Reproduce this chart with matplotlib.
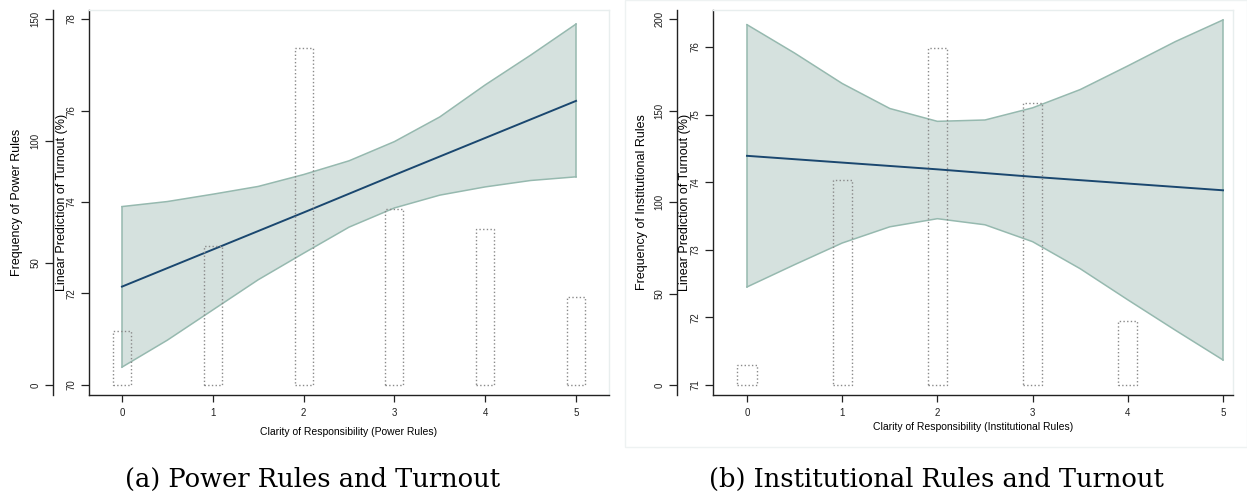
import numpy as np
import matplotlib
matplotlib.use('Agg')
import matplotlib.pyplot as plt
from matplotlib.patches import Rectangle

# ---------------------------------------------------------------------------
# data
clarity = [0, 1, 2, 3, 4, 5]
grid = [0, 0.5, 1, 1.5, 2, 2.5, 3, 3.5, 4, 4.5, 5]

power_freq = [22, 57, 138, 72, 64, 36]
power_fit = [72.15, 72.96, 73.77, 74.59, 75.40, 76.21]
power_upper = [73.90, 74.01, 74.17, 74.34, 74.60, 74.90, 75.32, 75.86, 76.56, 77.21, 77.89]
power_lower = [70.39, 70.98, 71.64, 72.30, 72.88, 73.45, 73.87, 74.15, 74.33, 74.47, 74.55]

inst_freq = [11, 112, 184, 154, 35, 0]
inst_fit = [74.39, 74.29, 74.19, 74.08, 73.98, 73.88]
inst_upper = [76.33, 75.91, 75.46, 75.09, 74.90, 74.92, 75.10, 75.37, 75.72, 76.08, 76.40]
inst_lower = [72.45, 72.78, 73.10, 73.34, 73.46, 73.37, 73.12, 72.72, 72.26, 71.81, 71.37]

# ---------------------------------------------------------------------------
sans = ['Liberation Sans', 'DejaVu Sans']
serif = ['DejaVu Serif']

navy = '#1a476f'
band_fill = '#d5e1de'
band_edge = '#96b9af'
bar_edge = '#8a8a8a'
frame = '#e8eeee'

W, H = 1247, 495
fig = plt.figure(figsize=(W / 100, H / 100), dpi=100)
fig.patch.set_facecolor('white')

# faint outer box of the second Stata graph
fig.patches.append(Rectangle((625 / W, 1 - 447 / H), 622 / W, 447 / H,
                             transform=fig.transFigure, facecolor='none',
                             edgecolor='#eef2f2', linewidth=1.0))


def panel(left_px, xlim, pred_lim, pred_ticks, freq_lim, freq_ticks,
          upper, lower, fit, freq, freq_label, xlabel, xlab_y, fx, px):
    ax = fig.add_axes([left_px / W, 100 / H, 520 / W, 385 / H])
    ax.fill_between(grid, lower, upper, facecolor=band_fill, edgecolor='none', zorder=1)
    ax.plot(grid, upper, color=band_edge, lw=1.1, zorder=2)
    ax.plot(grid, lower, color=band_edge, lw=1.1, zorder=2)
    ax.plot([grid[0], grid[0]], [lower[0], upper[0]], color=band_edge, lw=1.1, zorder=2)
    ax.plot([grid[-1], grid[-1]], [lower[-1], upper[-1]], color=band_edge, lw=1.1, zorder=2)
    ax.plot(clarity, fit, color=navy, lw=1.4, zorder=3)
    ax.set_xlim(*xlim)
    ax.set_ylim(*pred_lim)
    ax.set_xticks(clarity)
    ax.set_yticks(pred_ticks)
    ax.tick_params(axis='y', length=6, width=0.9, pad=3, labelsize=7, colors='#222222')
    ax.tick_params(axis='x', length=5, width=0.9, pad=4, labelsize=7, colors='#222222')
    for lab in ax.get_yticklabels():
        lab.set_rotation(90)
        lab.set_va('center')
        lab.set_family(sans)
    for lab in ax.get_xticklabels():
        lab.set_family(sans)
    for s in ['left', 'bottom']:
        ax.spines[s].set_color('#222222')
        ax.spines[s].set_linewidth(1.0)
    for s in ['top', 'right']:
        ax.spines[s].set_color(frame)
        ax.spines[s].set_linewidth(1.0)
    ax.set_ylabel('Linear Prediction of Turnout (%)', fontsize=9, family=sans)
    ax.yaxis.label.set_va('center')
    ax.yaxis.set_label_coords(px, 0.5)
    ax.set_xlabel(xlabel, fontsize=7.5, family=sans)
    ax.xaxis.label.set_va('center')
    ax.xaxis.set_label_coords(0.5, xlab_y)

    axf = ax.twinx()
    shown = [i for i, f in enumerate(freq) if f > 0]
    axf.bar([clarity[i] for i in shown], [freq[i] for i in shown], width=0.2,
            facecolor='none', edgecolor=bar_edge, linestyle=':', linewidth=1.0)
    axf.set_ylim(*freq_lim)
    axf.set_yticks(freq_ticks)
    axf.yaxis.set_ticks_position('left')
    axf.yaxis.set_label_position('left')
    axf.spines['left'].set_position(('outward', 36 * 72 / 100))
    axf.spines['left'].set_color('#222222')
    axf.spines['left'].set_linewidth(1.0)
    for s in ['top', 'right', 'bottom']:
        axf.spines[s].set_visible(False)
    axf.tick_params(axis='y', length=6, width=0.9, pad=3, labelsize=7, colors='#222222')
    for lab in axf.get_yticklabels():
        lab.set_rotation(90)
        lab.set_va('center')
        lab.set_family(sans)
    axf.set_ylabel(freq_label, fontsize=9, family=sans)
    axf.yaxis.label.set_va('center')
    axf.yaxis.label.set_rotation(90)
    axf.yaxis.set_label_coords(fx, 0.5)
    return ax


panel(89, (-0.363, 5.363), (69.781, 78.197), [70, 72, 74, 76, 78],
      (-4.10, 153.69), [0, 50, 100, 150],
      power_upper, power_lower, power_fit, power_freq,
      'Frequency of Power Rules', 'Clarity of Responsibility (Power Rules)',
      -0.096, -0.1385, -0.0519)

panel(713, (-0.357, 5.105), (70.852, 76.547), [71, 72, 73, 74, 75, 76],
      (-5.46, 204.92), [0, 50, 100, 150, 200],
      inst_upper, inst_lower, inst_fit, inst_freq,
      'Frequency of Institutional Rules', 'Clarity of Responsibility (Institutional Rules)',
      -0.083, -0.1365, -0.0538)

fig.text(313 / W, 1 - 479 / H, '(a) Power Rules and Turnout', ha='center', va='center',
         fontsize=18.5, family=serif)
fig.text(936 / W, 1 - 479 / H, '(b) Institutional Rules and Turnout', ha='center', va='center',
         fontsize=18.5, family=serif)

fig.savefig('out.png', dpi=100)
